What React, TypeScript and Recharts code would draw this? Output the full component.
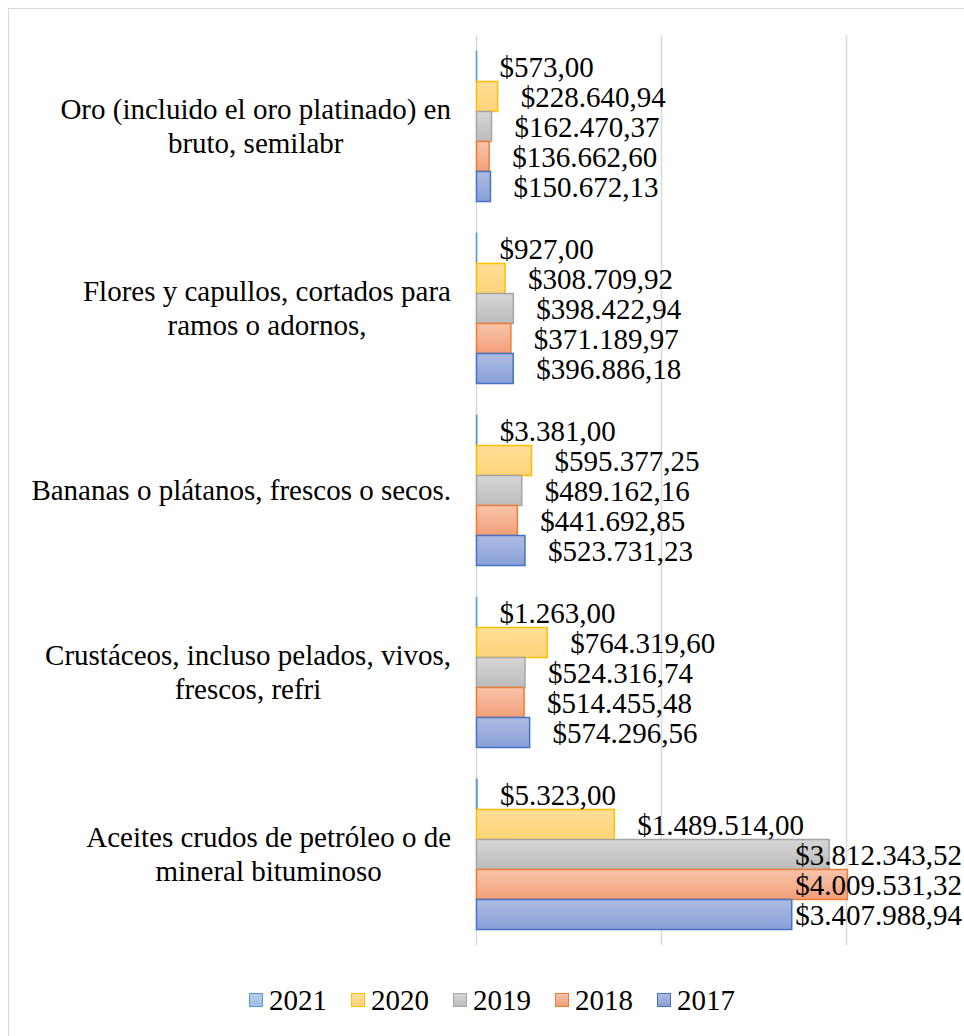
import React from 'react';
import { BarChart, Bar, XAxis, YAxis, CartesianGrid, Legend, LabelList } from 'recharts';

// categories (line breaks as shown in the chart)
const categories = [
  'Oro (incluido el oro platinado) en\nbruto, semilabr',
  'Flores y capullos, cortados para\nramos o adornos,',
  'Bananas o plátanos, frescos o secos.',
  'Crustáceos, incluso pelados, vivos,\nfrescos, refri',
  'Aceites crudos de petróleo o de\nmineral bituminoso',
];

const years = ['2021', '2020', '2019', '2018', '2017'];

const v2021 = [573.0, 927.0, 3381.0, 1263.0, 5323.0];
const v2020 = [228640.94, 308709.92, 595377.25, 764319.6, 1489514.0];
const v2019 = [162470.37, 398422.94, 489162.16, 524316.74, 3812343.52];
const v2018 = [136662.6, 371189.97, 441692.85, 514455.48, 4009531.32];
const v2017 = [150672.13, 396886.18, 523731.23, 574296.56, 3407988.94];

const xTicks = [0, 2000000, 4000000];
const xMax = 5000000;

const data = categories.map((name, i) => ({
  name,
  y2021: v2021[i],
  y2020: v2020[i],
  y2019: v2019[i],
  y2018: v2018[i],
  y2017: v2017[i],
}));

const colors: Record<string, { top: string; bottom: string; stroke: string }> = {
  '2021': { top: '#b6d0ec', bottom: '#9cbfe6', stroke: '#5b9bd5' },
  '2020': { top: '#ffde98', bottom: '#ffd479', stroke: '#ffc000' },
  '2019': { top: '#d6d6d6', bottom: '#bcbcbc', stroke: '#a5a5a5' },
  '2018': { top: '#f8c5aa', bottom: '#f29f7a', stroke: '#ed7d31' },
  '2017': { top: '#aebce3', bottom: '#89a0d7', stroke: '#4472c4' },
};

const FONT = '"Liberation Serif", "Times New Roman", serif';
const LEFT = 9;
const TOP = 9;

const ctx = typeof document !== 'undefined' ? document.createElement('canvas').getContext('2d') : null;
const measure = (s: string, size: number) => {
  if (!ctx) return s.length * size * 0.5;
  ctx.font = `${size}px "Liberation Serif"`;
  return ctx.measureText(s).width;
};

const fmt = (v: number) => {
  const [i, d] = v.toFixed(2).split('.');
  return '$' + i.replace(/\B(?=(\d{3})+(?!\d))/g, '.') + ',' + d;
};

const CategoryTick = (props: any) => {
  const { y, payload } = props;
  const lines = String(payload.value).split('\n');
  const size = 29;
  const w = Math.max(...lines.map((l) => measure(l, size)));
  const cx = 442 - w / 2;
  const lh = 33.5;
  return (
    <g>
      {lines.map((l, i) => (
        <text
          key={i}
          x={cx}
          y={y + (i - (lines.length - 1) / 2) * lh}
          dy="0.35em"
          textAnchor="middle"
          fontFamily={FONT}
          fontSize={size}
          fill="#000"
        >
          {l}
        </text>
      ))}
    </g>
  );
};

const ValueLabel = (props: any) => {
  const { x, y, width, height, value } = props;
  const s = fmt(Number(value));
  const size = 29;
  const w = measure(s, size);
  let tx = x + width + 23;
  let anchor = 'start';
  if (tx + w + LEFT > 962) {
    tx = 962 - LEFT;
    anchor = 'end';
  }
  return (
    <text x={tx} y={y + height / 2} dy="0.35em" textAnchor={anchor} fontFamily={FONT} fontSize={size} fill="#000">
      {s}
    </text>
  );
};

const LegendContent = () => (
  <div
    style={{
      height: 70,
      paddingTop: 40,
      boxSizing: 'border-box',
      display: 'flex',
      justifyContent: 'center',
      alignItems: 'center',
      fontFamily: FONT,
      fontSize: 29,
      color: '#000',
    }}
  >
    {years.map((yr) => (
      <div key={yr} style={{ display: 'flex', alignItems: 'center', margin: '0 12px' }}>
        <span
          style={{
            width: 12,
            height: 12,
            border: `1.5px solid ${colors[yr].stroke}`,
            background: `linear-gradient(${colors[yr].top}, ${colors[yr].bottom})`,
            marginRight: 6,
            display: 'inline-block',
          }}
        />
        <span style={{ lineHeight: '30px' }}>{yr}</span>
      </div>
    ))}
  </div>
);

const gridX = ({ offset }: any) => xTicks.map((t) => offset.left + (t / xMax) * offset.width);

export default function App() {
  return (
    <div style={{ position: 'absolute', left: 0, top: 0, width: 964, height: 1036, overflow: 'hidden', background: '#fff' }}>
      <div
        style={{
          position: 'absolute',
          left: LEFT - 1,
          top: TOP - 1,
          width: 1000,
          height: 1100,
          border: '1.5px solid #d9d9d9',
        }}
      />
      <div style={{ position: 'absolute', left: LEFT, top: TOP }}>
        <BarChart
          width={966}
          height={1016}
          data={data}
          layout="vertical"
          margin={{ top: 26, right: 36, left: 0, bottom: 10 }}
          barCategoryGap="9%"
          barGap={0}
        >
          <defs>
            {years.map((yr) => (
              <linearGradient key={yr} id={`g${yr}`} x1="0" y1="0" x2="0" y2="1">
                <stop offset="0%" stopColor={colors[yr].top} />
                <stop offset="100%" stopColor={colors[yr].bottom} />
              </linearGradient>
            ))}
          </defs>
          <CartesianGrid horizontal={false} stroke="#d9d9d9" strokeWidth={1.5} verticalCoordinatesGenerator={gridX} />
          <XAxis type="number" domain={[0, xMax]} ticks={xTicks} hide />
          <YAxis
            type="category"
            dataKey="name"
            width={467.5}
            axisLine={false}
            tickLine={false}
            tick={<CategoryTick />}
            interval={0}
          />
          <Legend
            verticalAlign="bottom"
            height={70}
            content={<LegendContent />}
            wrapperStyle={{ left: 0, width: 966 }}
          />
          {years.map((yr) => (
            <Bar
              key={yr}
              dataKey={`y${yr}`}
              name={yr}
              fill={`url(#g${yr})`}
              stroke={colors[yr].stroke}
              strokeWidth={1.5}
              isAnimationActive={false}
            >
              <LabelList dataKey={`y${yr}`} content={<ValueLabel />} />
            </Bar>
          ))}
        </BarChart>
      </div>
    </div>
  );
}
